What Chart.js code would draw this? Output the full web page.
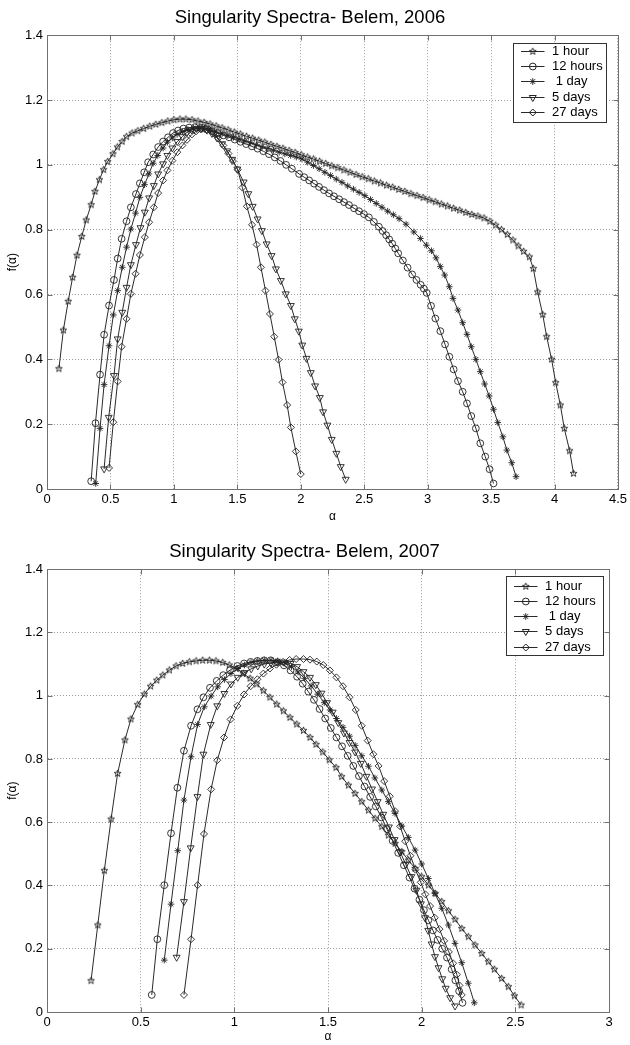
<!DOCTYPE html>
<html>
<head>
<meta charset="utf-8">
<script src="https://cdn.jsdelivr.net/npm/chart.js@4.4.1/dist/chart.umd.min.js"></script>
<style>
  body { margin: 0; background: #fff; }
  #c1 { position: absolute; left: 0; top: 0; }
  #c2 { position: absolute; left: 0; top: 525px; }
</style>
</head>
<body>
<canvas id="c1" width="630" height="525"></canvas>
<canvas id="c2" width="630" height="520"></canvas>
<script>
// ---- data: [alpha, f(alpha)] ----
var labels = ['1 hour', '12 hours', ' 1 day', '5 days', '27 days'];

var s06_1hour = [[0.094,0.371],[0.129,0.490],[0.167,0.579],[0.202,0.653],[0.236,0.721],[0.274,0.779],[0.309,0.830],[0.348,0.877],[0.378,0.918],[0.413,0.954],[0.446,0.985],[0.478,1.010],[0.520,1.034],[0.555,1.055],[0.592,1.072],[0.627,1.087],[0.670,1.098],[0.716,1.105],[0.762,1.112],[0.810,1.119],[0.858,1.125],[0.905,1.130],[0.952,1.135],[1.000,1.139],[1.048,1.141],[1.095,1.141],[1.143,1.139],[1.190,1.135],[1.238,1.131],[1.285,1.126],[1.333,1.120],[1.380,1.114],[1.428,1.108],[1.476,1.101],[1.524,1.095],[1.572,1.088],[1.620,1.082],[1.668,1.076],[1.716,1.070],[1.764,1.063],[1.812,1.057],[1.860,1.051],[1.908,1.044],[1.956,1.038],[2.004,1.031],[2.052,1.024],[2.100,1.018],[2.148,1.011],[2.196,1.004],[2.244,0.997],[2.292,0.991],[2.340,0.984],[2.388,0.977],[2.436,0.970],[2.484,0.963],[2.532,0.957],[2.580,0.950],[2.628,0.944],[2.676,0.937],[2.724,0.931],[2.772,0.924],[2.820,0.918],[2.868,0.911],[2.916,0.905],[2.964,0.899],[3.012,0.892],[3.060,0.886],[3.108,0.879],[3.156,0.873],[3.204,0.866],[3.252,0.860],[3.300,0.853],[3.348,0.847],[3.396,0.842],[3.444,0.836],[3.490,0.826],[3.536,0.814],[3.582,0.800],[3.628,0.785],[3.672,0.768],[3.714,0.750],[3.756,0.733],[3.802,0.716],[3.833,0.680],[3.867,0.608],[3.907,0.538],[3.938,0.470],[3.977,0.400],[4.009,0.328],[4.046,0.259],[4.077,0.187],[4.119,0.118],[4.150,0.048]];
var s06_12hours = [[0.348,0.024],[0.382,0.203],[0.418,0.353],[0.450,0.476],[0.489,0.566],[0.528,0.645],[0.557,0.711],[0.588,0.772],[0.627,0.826],[0.661,0.869],[0.701,0.910],[0.732,0.943],[0.766,0.977],[0.797,1.008],[0.837,1.032],[0.876,1.055],[0.915,1.072],[0.954,1.085],[0.993,1.098],[1.033,1.106],[1.075,1.112],[1.120,1.115],[1.165,1.116],[1.210,1.114],[1.255,1.110],[1.300,1.104],[1.345,1.098],[1.390,1.091],[1.435,1.085],[1.480,1.078],[1.525,1.071],[1.570,1.064],[1.615,1.057],[1.660,1.050],[1.705,1.042],[1.750,1.033],[1.795,1.023],[1.840,1.012],[1.885,1.000],[1.930,0.988],[1.987,0.972],[2.027,0.962],[2.066,0.952],[2.105,0.942],[2.144,0.932],[2.183,0.922],[2.223,0.912],[2.262,0.903],[2.302,0.894],[2.341,0.885],[2.380,0.876],[2.420,0.866],[2.459,0.857],[2.498,0.848],[2.537,0.838],[2.576,0.824],[2.616,0.809],[2.645,0.796],[2.673,0.783],[2.697,0.770],[2.721,0.757],[2.745,0.742],[2.768,0.727],[2.805,0.705],[2.842,0.683],[2.878,0.662],[2.912,0.645],[2.945,0.630],[2.970,0.618],[2.993,0.605],[3.027,0.565],[3.061,0.526],[3.100,0.487],[3.137,0.446],[3.171,0.408],[3.205,0.369],[3.239,0.333],[3.276,0.300],[3.310,0.264],[3.344,0.225],[3.380,0.187],[3.415,0.141],[3.454,0.100],[3.488,0.061],[3.519,0.017]];
var s06_1day = [[0.384,0.017],[0.418,0.187],[0.450,0.322],[0.489,0.442],[0.523,0.537],[0.557,0.612],[0.593,0.684],[0.627,0.746],[0.661,0.802],[0.698,0.851],[0.732,0.900],[0.769,0.939],[0.803,0.972],[0.837,1.005],[0.873,1.029],[0.915,1.052],[0.949,1.070],[0.988,1.083],[1.025,1.094],[1.067,1.102],[1.110,1.109],[1.155,1.113],[1.200,1.115],[1.245,1.112],[1.290,1.107],[1.335,1.101],[1.380,1.096],[1.425,1.090],[1.470,1.085],[1.515,1.079],[1.560,1.073],[1.605,1.068],[1.650,1.062],[1.695,1.056],[1.740,1.051],[1.785,1.045],[1.830,1.039],[1.875,1.034],[1.920,1.029],[1.965,1.024],[2.010,1.018],[2.055,1.008],[2.100,0.998],[2.145,0.988],[2.190,0.977],[2.235,0.967],[2.280,0.956],[2.325,0.946],[2.370,0.935],[2.415,0.925],[2.460,0.915],[2.505,0.905],[2.550,0.893],[2.595,0.881],[2.640,0.869],[2.685,0.857],[2.730,0.846],[2.775,0.834],[2.830,0.817],[2.891,0.793],[2.943,0.773],[2.990,0.752],[3.030,0.735],[3.066,0.713],[3.100,0.686],[3.134,0.660],[3.171,0.624],[3.200,0.588],[3.239,0.552],[3.276,0.513],[3.310,0.477],[3.344,0.439],[3.380,0.400],[3.415,0.362],[3.449,0.324],[3.485,0.287],[3.519,0.246],[3.553,0.205],[3.593,0.161],[3.624,0.120],[3.663,0.081],[3.697,0.038]];
var s06_5days = [[0.450,0.062],[0.486,0.221],[0.528,0.350],[0.557,0.463],[0.593,0.545],[0.627,0.622],[0.661,0.692],[0.701,0.754],[0.737,0.806],[0.771,0.854],[0.805,0.898],[0.842,0.936],[0.876,0.972],[0.915,1.003],[0.949,1.029],[0.988,1.052],[1.027,1.072],[1.067,1.087],[1.103,1.100],[1.140,1.108],[1.180,1.112],[1.220,1.112],[1.260,1.107],[1.300,1.097],[1.340,1.083],[1.380,1.065],[1.420,1.043],[1.460,1.017],[1.500,0.987],[1.550,0.947],[1.587,0.911],[1.621,0.872],[1.660,0.833],[1.694,0.797],[1.731,0.756],[1.770,0.720],[1.804,0.679],[1.843,0.643],[1.882,0.602],[1.922,0.566],[1.953,0.525],[1.985,0.487],[2.012,0.444],[2.045,0.403],[2.079,0.359],[2.113,0.318],[2.150,0.282],[2.176,0.238],[2.210,0.197],[2.244,0.153],[2.281,0.110],[2.315,0.069],[2.354,0.030]];
var s06_27days = [[0.489,0.065],[0.523,0.206],[0.557,0.332],[0.588,0.439],[0.627,0.525],[0.661,0.602],[0.698,0.664],[0.732,0.722],[0.771,0.777],[0.805,0.823],[0.842,0.869],[0.876,0.913],[0.915,0.952],[0.949,0.983],[0.988,1.013],[1.027,1.039],[1.067,1.060],[1.103,1.077],[1.142,1.094],[1.176,1.104],[1.210,1.110],[1.245,1.112],[1.280,1.108],[1.315,1.098],[1.350,1.082],[1.390,1.060],[1.430,1.035],[1.465,1.012],[1.503,0.985],[1.540,0.930],[1.575,0.872],[1.616,0.815],[1.652,0.754],[1.686,0.684],[1.722,0.612],[1.757,0.540],[1.791,0.470],[1.825,0.399],[1.856,0.329],[1.893,0.259],[1.922,0.190],[1.961,0.116],[2.000,0.046]];

var s07_1hour = [[0.235,0.099],[0.271,0.275],[0.306,0.447],[0.342,0.610],[0.377,0.754],[0.416,0.860],[0.448,0.926],[0.484,0.972],[0.520,1.005],[0.553,1.030],[0.586,1.049],[0.618,1.065],[0.653,1.081],[0.689,1.094],[0.724,1.102],[0.760,1.107],[0.796,1.110],[0.831,1.112],[0.867,1.112],[0.902,1.110],[0.938,1.105],[0.973,1.097],[1.013,1.086],[1.048,1.070],[1.084,1.055],[1.119,1.037],[1.155,1.016],[1.190,0.995],[1.226,0.973],[1.262,0.952],[1.297,0.931],[1.333,0.910],[1.369,0.890],[1.404,0.868],[1.436,0.846],[1.472,0.822],[1.507,0.797],[1.543,0.773],[1.573,0.744],[1.609,0.717],[1.644,0.691],[1.680,0.665],[1.716,0.638],[1.751,0.612],[1.787,0.586],[1.822,0.559],[1.858,0.533],[1.894,0.507],[1.929,0.480],[1.965,0.454],[2.000,0.428],[2.036,0.401],[2.072,0.375],[2.107,0.349],[2.143,0.320],[2.178,0.293],[2.214,0.264],[2.249,0.238],[2.285,0.212],[2.321,0.185],[2.356,0.159],[2.388,0.135],[2.427,0.106],[2.463,0.080],[2.495,0.051],[2.531,0.022]];
var s07_12hours = [[0.559,0.054],[0.589,0.230],[0.626,0.401],[0.662,0.565],[0.696,0.709],[0.731,0.826],[0.769,0.905],[0.803,0.957],[0.835,0.995],[0.870,1.025],[0.906,1.047],[0.941,1.065],[0.977,1.081],[1.016,1.094],[1.052,1.102],[1.087,1.107],[1.123,1.110],[1.159,1.112],[1.194,1.112],[1.230,1.106],[1.265,1.096],[1.300,1.080],[1.335,1.060],[1.365,1.038],[1.395,1.013],[1.425,0.987],[1.455,0.958],[1.485,0.928],[1.515,0.898],[1.545,0.868],[1.575,0.840],[1.605,0.810],[1.635,0.778],[1.665,0.746],[1.695,0.713],[1.725,0.680],[1.755,0.650],[1.785,0.615],[1.815,0.578],[1.845,0.541],[1.875,0.503],[1.905,0.464],[1.935,0.425],[1.962,0.390],[1.988,0.355],[2.012,0.322],[2.036,0.290],[2.060,0.258],[2.085,0.228],[2.110,0.200],[2.135,0.172],[2.160,0.135],[2.180,0.100],[2.200,0.066],[2.218,0.029]];
var s07_1day = [[0.626,0.164],[0.662,0.341],[0.698,0.510],[0.731,0.670],[0.769,0.807],[0.804,0.909],[0.840,0.965],[0.876,0.999],[0.911,1.028],[0.947,1.051],[0.982,1.070],[1.018,1.086],[1.054,1.097],[1.089,1.105],[1.125,1.110],[1.160,1.112],[1.196,1.112],[1.232,1.110],[1.270,1.104],[1.305,1.092],[1.340,1.075],[1.375,1.055],[1.410,1.031],[1.445,1.005],[1.480,0.978],[1.511,0.955],[1.545,0.928],[1.580,0.900],[1.615,0.872],[1.645,0.843],[1.680,0.810],[1.716,0.777],[1.750,0.740],[1.787,0.702],[1.822,0.665],[1.858,0.628],[1.894,0.588],[1.929,0.552],[1.965,0.512],[2.000,0.468],[2.036,0.422],[2.071,0.375],[2.107,0.328],[2.143,0.275],[2.178,0.217],[2.214,0.156],[2.249,0.091],[2.281,0.029]];
var s07_5days = [[0.692,0.173],[0.731,0.349],[0.767,0.519],[0.803,0.681],[0.835,0.815],[0.874,0.909],[0.909,0.968],[0.947,1.007],[0.982,1.037],[1.018,1.058],[1.054,1.073],[1.090,1.085],[1.125,1.094],[1.160,1.100],[1.195,1.104],[1.230,1.106],[1.265,1.106],[1.300,1.102],[1.335,1.092],[1.369,1.076],[1.404,1.058],[1.435,1.035],[1.465,1.008],[1.495,0.978],[1.525,0.948],[1.555,0.915],[1.585,0.882],[1.615,0.852],[1.645,0.822],[1.675,0.786],[1.705,0.745],[1.735,0.705],[1.765,0.665],[1.795,0.625],[1.825,0.585],[1.855,0.545],[1.885,0.506],[1.915,0.467],[1.945,0.428],[1.972,0.385],[1.996,0.342],[2.018,0.298],[2.035,0.258],[2.053,0.215],[2.071,0.175],[2.090,0.140],[2.110,0.105],[2.128,0.075],[2.152,0.045],[2.178,0.019]];
var s07_27days = [[0.731,0.054],[0.769,0.230],[0.804,0.401],[0.838,0.563],[0.876,0.704],[0.909,0.796],[0.945,0.868],[0.980,0.925],[1.016,0.968],[1.052,1.004],[1.087,1.030],[1.123,1.052],[1.155,1.070],[1.190,1.086],[1.225,1.098],[1.260,1.107],[1.295,1.113],[1.330,1.116],[1.369,1.116],[1.404,1.114],[1.440,1.108],[1.475,1.097],[1.510,1.080],[1.545,1.058],[1.580,1.030],[1.615,0.995],[1.648,0.955],[1.680,0.905],[1.712,0.858],[1.742,0.815],[1.770,0.778],[1.800,0.730],[1.830,0.682],[1.858,0.635],[1.885,0.587],[1.912,0.540],[1.940,0.494],[1.967,0.450],[1.995,0.410],[2.020,0.372],[2.045,0.335],[2.070,0.298],[2.095,0.262],[2.120,0.225],[2.145,0.190],[2.168,0.154],[2.188,0.118],[2.202,0.084],[2.214,0.054]];

var yTicks = [0, 0.2, 0.4, 0.6, 0.8, 1, 1.2, 1.4];
var xMax06 = 4.5, xMax07 = 3;

Chart.defaults.font.family = 'Liberation Sans, Arial, sans-serif';
Chart.defaults.color = '#000';

// MATLAB style numbers: 1 not 1.0
function tickText(v) {
    return String(parseFloat(Number(v).toFixed(2)));
}

// MATLAB pentagram marker ('p')
function pentagram(r) {
    var s = Math.ceil(r * 2 + 3);
    var c = document.createElement('canvas');
    c.width = s; c.height = s;
    var g = c.getContext('2d');
    g.strokeStyle = '#222';
    g.lineWidth = 0.9;
    g.beginPath();
    for (var i = 0; i < 10; i++) {
        var rr = i % 2 == 0 ? r : r * 0.42;
        var ang = -Math.PI / 2 + i * Math.PI / 5;
        var x = s / 2 + rr * Math.cos(ang), y = s / 2 + rr * Math.sin(ang);
        if (i == 0) g.moveTo(x, y); else g.lineTo(x, y);
    }
    g.closePath();
    g.stroke();
    return c;
}
var starImg = pentagram(3.6);

function series(label, pts, style, radius, rot) {
    return {
        label: label,
        data: pts.map(function (p) { return {x: p[0], y: p[1]}; }),
        showLine: true,
        borderColor: '#2a2a2a',
        borderWidth: 1,
        pointStyle: style,
        pointRadius: radius,
        pointHoverRadius: radius,
        pointRotation: rot || 0,
        pointBorderColor: '#222',
        pointBorderWidth: 0.9,
        pointBackgroundColor: 'rgba(0,0,0,0)'
    };
}

// box round the axes plus inward tick marks, like MATLAB
var frame = {
    id: 'frame',
    afterDatasetsDraw: function (chart) {
        var ctx = chart.ctx, a = chart.chartArea, sx = chart.scales.x, sy = chart.scales.y;
        var L = Math.round(a.left) + 0.5, R = Math.round(a.right) + 0.5;
        var T = Math.round(a.top) + 0.5, B = Math.round(a.bottom) + 0.5;
        ctx.save();
        ctx.strokeStyle = '#707070';
        ctx.lineWidth = 1;
        ctx.strokeRect(L, T, R - L, B - T);
        ctx.beginPath();
        sx.ticks.forEach(function (t) {
            var px = Math.round(sx.getPixelForValue(t.value)) + 0.5;
            ctx.moveTo(px, B); ctx.lineTo(px, B - 5);
            ctx.moveTo(px, T); ctx.lineTo(px, T + 5);
        });
        sy.ticks.forEach(function (t) {
            var py = Math.round(sy.getPixelForValue(t.value)) + 0.5;
            ctx.moveTo(L, py); ctx.lineTo(L + 5, py);
            ctx.moveTo(R, py); ctx.lineTo(R - 5, py);
        });
        ctx.stroke();
        ctx.restore();
    }
};

// legend box with line + marker samples
var boxLegend = {
    id: 'boxLegend',
    afterDatasetsDraw: function (chart, args, o) {
        var ctx = chart.ctx, a = chart.chartArea;
        var x0 = Math.round(a.right - o.right - o.width) + 0.5, y0 = Math.round(a.top + o.top) + 0.5;
        ctx.save();
        ctx.fillStyle = '#fff';
        ctx.fillRect(x0, y0, o.width, o.height);
        ctx.strokeStyle = '#333';
        ctx.lineWidth = 1;
        ctx.strokeRect(x0, y0, o.width, o.height);
        chart.data.datasets.forEach(function (ds, i) {
            var y = Math.round(y0 + o.first + i * o.step) + 0.5;
            ctx.strokeStyle = ds.borderColor;
            ctx.lineWidth = 1;
            ctx.beginPath();
            ctx.moveTo(x0 + 7.5, y);
            ctx.lineTo(x0 + 31, y);
            ctx.stroke();
            ctx.strokeStyle = ds.pointBorderColor;
            ctx.fillStyle = 'rgba(0,0,0,0)';
            Chart.helpers.drawPoint(ctx, {
                pointStyle: ds.pointStyle, rotation: ds.pointRotation,
                radius: ds.pointRadius, borderWidth: ds.pointBorderWidth
            }, x0 + 19.3, y);
            ctx.fillStyle = '#000';
            ctx.font = '13px Liberation Sans, Arial, sans-serif';
            ctx.textBaseline = 'middle';
            ctx.fillText(ds.label, x0 + 38.6, y);
        });
        ctx.restore();
    }
};

function makeChart(id, title, sets, xMax, cfg) {
    return new Chart(document.getElementById(id), {
        type: 'scatter',
        data: {
            datasets: [
                series(labels[0], sets[0], starImg, 3.4),
                series(labels[1], sets[1], 'circle', 3.4),
                series(labels[2], sets[2], 'star', 3.3),
                series(labels[3], sets[3], 'triangle', 4, 180),
                series(labels[4], sets[4], 'rectRot', 3.5)
            ]
        },
        options: {
            responsive: false,
            animation: false,
            devicePixelRatio: 1,
            layout: {padding: {left: 0, right: cfg.padRight, top: 0, bottom: 0}},
            plugins: {
                legend: {display: false},
                tooltip: {enabled: false},
                title: {
                    display: true, text: title, color: '#000',
                    font: {size: 18.5, weight: 'normal'},
                    padding: {top: cfg.titleTop, bottom: cfg.titleBottom}
                },
                boxLegend: cfg.legend
            },
            scales: {
                x: {
                    type: 'linear', min: 0, max: xMax,
                    ticks: {stepSize: 0.5, padding: 3, font: {size: 13}, color: '#000', maxRotation: 0, callback: tickText},
                    grid: {color: '#9a9a9a', drawTicks: false},
                    border: {display: true, color: '#707070', dash: [1, 2]},
                    title: {display: true, text: 'α', font: {size: 12}, padding: {top: 0, bottom: 1}, color: '#000'},
                    afterFit: function (s) { s.height = cfg.xHeight; }
                },
                y: {
                    type: 'linear', min: 0, max: 1.4,
                    afterBuildTicks: function (s) { s.ticks = yTicks.map(function (v) { return {value: v}; }); },
                    ticks: {padding: 4, font: {size: 13}, color: '#000', callback: tickText},
                    grid: {color: '#9a9a9a', drawTicks: false},
                    border: {display: true, color: '#707070', dash: [1, 2]},
                    title: {display: true, text: 'f(α)', font: {size: 12}, padding: {top: 5, bottom: 0}, color: '#000'},
                    afterFit: function (s) { s.width = 47; }
                }
            }
        },
        plugins: [frame, boxLegend]
    });
}

makeChart('c1', 'Singularity Spectra- Belem, 2006',
    [s06_1hour, s06_12hours, s06_1day, s06_5days, s06_27days], xMax06,
    {padRight: 10, titleTop: 7, titleBottom: 6, xHeight: 36,
     legend: {right: 12, top: 8, width: 93, height: 79, first: 7.7, step: 15.1}});

makeChart('c2', 'Singularity Spectra- Belem, 2007',
    [s07_1hour, s07_12hours, s07_1day, s07_5days, s07_27days], xMax07,
    {padRight: 21, titleTop: 15.7, titleBottom: 6.3, xHeight: 33,
     legend: {right: 6, top: 7, width: 97, height: 79, first: 9, step: 15.25}});
</script>
</body>
</html>
